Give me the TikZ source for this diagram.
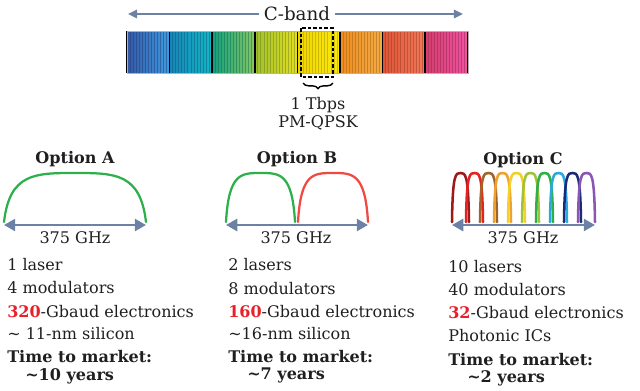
\documentclass[tikz,border=0pt]{standalone}
\usepackage{fontspec}
\setmainfont{DejaVu Serif}
\usetikzlibrary{arrows.meta,decorations.pathreplacing}

\definecolor{spanblue}{HTML}{6B82A4}
\definecolor{numred}{HTML}{E8202A}
\definecolor{humpgreen}{HTML}{2DB04B}
\definecolor{humpred}{HTML}{F04A40}

% one spectral hump from x0 to x1
\newcommand{\hump}[3]{%
  \pgfmathsetmacro{\hw}{(#2)-(#1)}
  \draw[hump,#3] (#1,222) .. controls ({#1+0.04*\hw},173) and ({#1+0.22*\hw},173) .. ({#1+0.5*\hw},173)
    .. controls ({#2-0.22*\hw},173) and ({#2-0.04*\hw},173) .. (#2,222);
}

\begin{document}
\begin{tikzpicture}[x=0.025cm, y=-0.025cm,
    every node/.style={inner sep=0pt, text=black!88, font=\fontsize{11.4}{13}\selectfont},
    lbl/.style={anchor=base},
    row/.style={anchor=base west},
    head/.style={anchor=base, font=\fontsize{11.4}{13}\selectfont\bfseries},
    span/.style={spanblue, line width=2.1pt, {Triangle[length=8pt,width=8.5pt]}-{Triangle[length=8pt,width=8.5pt]}},
    cbarrow/.style={spanblue, line width=1.3pt, -{Triangle[length=6.5pt,width=6pt]}},
    hump/.style={line width=1.6pt, line cap=round}]

    \useasboundingbox (0,0) rectangle (640,390);

    % C-band spectrum
    \node[font=\fontsize{13}{15}\selectfont, fill=white, inner xsep=3pt] (cband) at (297,14) {C-band};
    \coordinate (cbL) at (128,14);
    \coordinate (cbR) at (463,14);
    \draw[cbarrow] (cband.west) -- (cbL);
    \draw[cbarrow] (cband.east) -- (cbR);

    \foreach \i/\l/\r in {0/3558A6/3C9CE2, 1/1784B8/12B6C4, 2/129E7E/86C862, 3/9EBE2E/E4E020,
                          4/F0D400/FAEA10, 5/EE8C1E/F2AC46, 6/DE5436/F27A5A, 7/D43E6E/F052A2} {
        \definecolor{segl}{HTML}{\l}
        \definecolor{segr}{HTML}{\r}
        \pgfmathsetmacro{\xa}{127+42.6*\i}
        \shade[left color=segl, right color=segr] (\xa,31) rectangle ++(42.6,42);
        \foreach \k in {1,...,13}
            \draw[segl!65!black, opacity=.45, line width=0.6pt] ({\xa+\k*3.05},31) -- ++(0,42);
    }
    \foreach \k in {0,...,8}
        \draw[line width=1.2pt] ({127+42.6*\k},31) -- ++(0,42);
    \draw[gray!60, line width=0.6pt] (127,31) rectangle (468,73);
    \draw[line width=1.1pt, dash pattern=on 2.5pt off 1.5pt] (301,28) rectangle (333,77);
    \draw[decorate, decoration={brace, mirror, amplitude=4pt}, line width=1pt] (303,83) -- (333,83);
    \node[lbl] (tbps) at (318,109) {1 Tbps};
    \node[lbl] (qpsk) at (318,127) {PM-QPSK};

    % Option A
    \node[head] (optA) at (75,163) {Option A};
    \hump{4}{146}{humpgreen}
    \coordinate (aL) at (4,225);
    \coordinate (aR) at (146,225);
    \draw[span] (aL) -- (aR);
    \node[lbl] (ghzA) at (75,243) {375 GHz};
    \node[row] (a1) at (7,270) {1 laser};
    \node[row] (a2) at (7,293) {4 modulators};
    \node[row] (a3) at (7,317) {\textbf{\textcolor{numred}{320}}-Gbaud electronics};
    \node[row] (a4) at (7,339) {\textasciitilde{} 11-nm silicon};
    \node[row, font=\fontsize{11.4}{13}\selectfont\bfseries] (a5) at (7,362) {Time to market:};
    \node[row, font=\fontsize{11.4}{13}\selectfont\bfseries] (a6) at (25,380) {\textasciitilde10 years};

    % Option B
    \node[head] (optB) at (297,163) {Option B};
    \hump{226}{295}{humpgreen}
    \hump{298}{368}{humpred}
    \coordinate (bL) at (226,225);
    \coordinate (bR) at (368,225);
    \draw[span] (bL) -- (bR);
    \node[lbl] (ghzB) at (296,243) {375 GHz};
    \node[row] (b1) at (228,270) {2 lasers};
    \node[row] (b2) at (228,294) {8 modulators};
    \node[row] (b3) at (228,317) {\textbf{\textcolor{numred}{160}}-Gbaud electronics};
    \node[row] (b4) at (228,339) {\textasciitilde16-nm silicon};
    \node[row, font=\fontsize{11.4}{13}\selectfont\bfseries] (b5) at (228,362) {Time to market:};
    \node[row, font=\fontsize{11.4}{13}\selectfont\bfseries] (b6) at (247,379) {\textasciitilde7 years};

    % Option C
    \node[head] (optC) at (523,164) {Option C};
    \foreach \k/\c in {0/9E1A1A, 1/E52222, 2/A0642A, 3/F0A030, 4/F2D22A,
                       5/9CC43A, 6/2FAF4A, 7/2AA8E0, 8/1C2A78, 9/8A55B5} {
        \definecolor{hc}{HTML}{\c}
        \pgfmathsetmacro{\xs}{452+14*\k}
        \pgfmathsetmacro{\xe}{469+14*\k}
        \hump{\xs}{\xe}{hc, line width=1.8pt}
    }
    \coordinate (cL) at (452,225);
    \coordinate (cR) at (595,225);
    \draw[span] (cL) -- (cR);
    \node[lbl] (ghzC) at (523,243) {375 GHz};
    \node[row] (c1) at (448,272) {10 lasers};
    \node[row] (c2) at (448,295) {40 modulators};
    \node[row] (c3) at (448,318) {\textbf{\textcolor{numred}{32}}-Gbaud electronics};
    \node[row] (c4) at (448,341) {Photonic ICs};
    \node[row, font=\fontsize{11.4}{13}\selectfont\bfseries] (c5) at (448,365) {Time to market:};
    \node[row, font=\fontsize{11.4}{13}\selectfont\bfseries] (c6) at (467,382) {\textasciitilde2 years};
\end{tikzpicture}
\end{document}
